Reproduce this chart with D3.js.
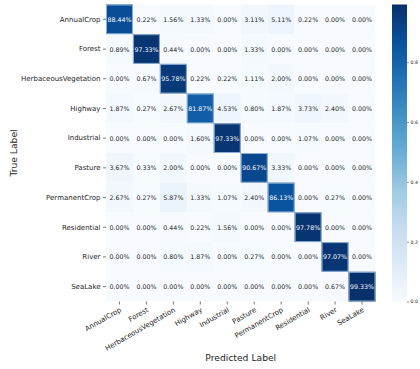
<!DOCTYPE html>
<html>
<head>
<meta charset="utf-8">
<script src="https://cdn.jsdelivr.net/npm/d3@7"></script>
<style>
  html, body { margin: 0; padding: 0; background: #fff; }
  svg { display: block; font-family: "DejaVu Sans", sans-serif; }
</style>
</head>
<body>
<svg id="chart" width="420" height="369"></svg>
<script>
// Class names (rows = true label, columns = predicted label)
const classes = ["AnnualCrop", "Forest", "HerbaceousVegetation", "Highway", "Industrial",
                 "Pasture", "PermanentCrop", "Residential", "River", "SeaLake"];

// Row-normalised confusion matrix, in percent
const rowAnnualCrop   = [88.44, 0.22, 1.56, 1.33, 0.00, 3.11, 5.11, 0.22, 0.00, 0.00];
const rowForest       = [0.89, 97.33, 0.44, 0.00, 0.00, 1.33, 0.00, 0.00, 0.00, 0.00];
const rowHerbaceous   = [0.00, 0.67, 95.78, 0.22, 0.22, 1.11, 2.00, 0.00, 0.00, 0.00];
const rowHighway      = [1.87, 0.27, 2.67, 81.87, 4.53, 0.80, 1.87, 3.73, 2.40, 0.00];
const rowIndustrial   = [0.00, 0.00, 0.00, 1.60, 97.33, 0.00, 0.00, 1.07, 0.00, 0.00];
const rowPasture      = [3.67, 0.33, 2.00, 0.00, 0.00, 90.67, 3.33, 0.00, 0.00, 0.00];
const rowPermanent    = [2.67, 0.27, 5.87, 1.33, 1.07, 2.40, 86.13, 0.00, 0.27, 0.00];
const rowResidential  = [0.00, 0.00, 0.44, 0.22, 1.56, 0.00, 0.00, 97.78, 0.00, 0.00];
const rowRiver        = [0.00, 0.00, 0.80, 1.87, 0.00, 0.27, 0.00, 0.00, 97.07, 0.00];
const rowSeaLake      = [0.00, 0.00, 0.00, 0.00, 0.00, 0.00, 0.00, 0.00, 0.67, 99.33];

const matrix = [rowAnnualCrop, rowForest, rowHerbaceous, rowHighway, rowIndustrial,
                rowPasture, rowPermanent, rowResidential, rowRiver, rowSeaLake];

const colorbarTicks = [0.0, 0.2, 0.4, 0.6, 0.8];

// Blues colormap stops
const bluesStops = ["#f7fbff", "#deebf7", "#c6dbef", "#9ecae1", "#6baed6",
                    "#4292c6", "#2171b5", "#08519c", "#08306b"];

const svg = d3.select("#chart");

const plot = { left: 106, top: 4.5, right: 375.5, bottom: 301.5 };
const cbar = { left: 392, right: 407 };

const cells = [];
matrix.forEach((row, i) => row.forEach((v, j) => cells.push({ i, j, v: v / 100 })));
const vmax = d3.max(cells, d => d.v);

const x = d3.scaleBand().domain(classes).range([plot.left, plot.right]);
const y = d3.scaleBand().domain(classes).range([plot.top, plot.bottom]);

const stopScale = d3.scaleLinear().domain([0, bluesStops.length - 1]).range([0, vmax]);
const color = d3.scaleLinear()
  .domain(bluesStops.map((_, k) => stopScale(k)))
  .range(bluesStops)
  .interpolate(d3.interpolateRgb)
  .clamp(true);

function luminance(c) {
  const rgb = d3.rgb(c);
  const f = v => { v /= 255; return v <= 0.03928 ? v / 12.92 : Math.pow((v + 0.055) / 1.055, 2.4); };
  return 0.2126 * f(rgb.r) + 0.7152 * f(rgb.g) + 0.0722 * f(rgb.b);
}

// Heatmap cells
svg.append("g").selectAll("rect")
  .data(cells)
  .join("rect")
  .attr("x", d => x(classes[d.j]))
  .attr("y", d => y(classes[d.i]))
  .attr("width", x.bandwidth())
  .attr("height", y.bandwidth())
  .attr("fill", d => color(d.v));

// Outline on the correct-prediction cells
svg.append("g").selectAll("rect")
  .data(cells.filter(d => d.i === d.j))
  .join("rect")
  .attr("x", d => x(classes[d.j]) + 0.5)
  .attr("y", d => y(classes[d.i]) + 0.5)
  .attr("width", x.bandwidth() - 1)
  .attr("height", y.bandwidth() - 1)
  .attr("fill", "none")
  .attr("stroke", "#8eaed4")
  .attr("stroke-width", 1);

// Cell annotations
svg.append("g").selectAll("text")
  .data(cells)
  .join("text")
  .attr("x", d => x(classes[d.j]) + x.bandwidth() / 2)
  .attr("y", d => y(classes[d.i]) + y.bandwidth() / 2)
  .attr("text-anchor", "middle")
  .attr("dominant-baseline", "central")
  .attr("font-size", 6.3)
  .attr("fill", d => luminance(color(d.v)) > 0.408 ? "#262626" : "#ffffff")
  .text(d => (d.v * 100).toFixed(2) + "%");

// Y axis
const yAxis = svg.append("g")
  .attr("transform", `translate(${plot.left},0)`)
  .call(d3.axisLeft(y).tickSize(3).tickPadding(2.5));
yAxis.select(".domain").remove();
yAxis.selectAll(".tick line").attr("stroke", "#444").attr("stroke-width", 0.7);
yAxis.selectAll(".tick text").attr("font-size", 7.0).attr("fill", "#262626")
  .attr("font-family", "DejaVu Sans");

// X axis with rotated labels
const xAxis = svg.append("g")
  .attr("transform", `translate(0,${plot.bottom})`)
  .call(d3.axisBottom(x).tickSize(3).tickPadding(2));
xAxis.select(".domain").remove();
xAxis.selectAll(".tick line").attr("stroke", "#444").attr("stroke-width", 0.7);
xAxis.selectAll(".tick text")
  .attr("font-size", 7.0).attr("fill", "#262626")
  .attr("font-family", "DejaVu Sans")
  .attr("text-anchor", "end")
  .attr("dy", null)
  .attr("dominant-baseline", "hanging")
  .attr("transform", "translate(0,5.5) rotate(-30)")
  .attr("y", 0);

// Axis titles
svg.append("text")
  .attr("x", (plot.left + plot.right) / 2)
  .attr("y", 361)
  .attr("text-anchor", "middle")
  .attr("font-size", 9.2)
  .attr("fill", "#262626")
  .text("Predicted Label");

svg.append("text")
  .attr("transform", `translate(17,${(plot.top + plot.bottom) / 2}) rotate(-90)`)
  .attr("text-anchor", "middle")
  .attr("font-size", 9.2)
  .attr("fill", "#262626")
  .text("True Label");

// Colorbar
const defs = svg.append("defs");
const grad = defs.append("linearGradient")
  .attr("id", "cbarGrad").attr("x1", 0).attr("y1", 1).attr("x2", 0).attr("y2", 0);
grad.selectAll("stop")
  .data(bluesStops)
  .join("stop")
  .attr("offset", (_, k) => k / (bluesStops.length - 1))
  .attr("stop-color", d => d);

const cy = d3.scaleLinear().domain([0, vmax]).range([plot.bottom, plot.top]);
svg.append("rect")
  .attr("x", cbar.left).attr("y", plot.top)
  .attr("width", cbar.right - cbar.left)
  .attr("height", plot.bottom - plot.top)
  .attr("fill", "url(#cbarGrad)");

const cAxis = svg.append("g")
  .attr("transform", `translate(${cbar.right},0)`)
  .call(d3.axisRight(cy).tickValues(colorbarTicks).tickFormat(d3.format(".1f")).tickSize(2).tickPadding(1.5));
cAxis.select(".domain").remove();
cAxis.selectAll(".tick line").attr("stroke", "#444").attr("stroke-width", 0.6);
cAxis.selectAll(".tick text").attr("font-size", 4.6).attr("fill", "#262626")
  .attr("font-family", "DejaVu Sans");
</script>
</body>
</html>
